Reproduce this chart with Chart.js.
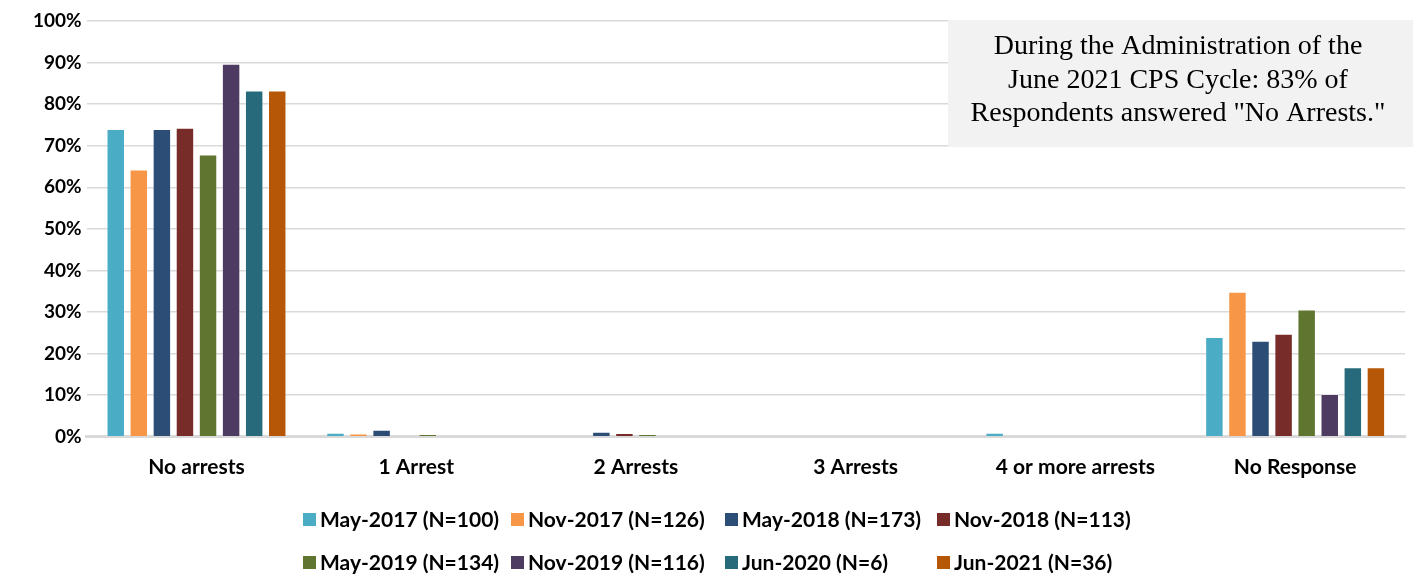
<!DOCTYPE html>
<html><head><meta charset="utf-8">
<script src="https://cdn.jsdelivr.net/npm/chart.js@4/dist/chart.umd.min.js"></script>
<style>html,body{margin:0;padding:0;background:#fff}#wrap{width:1413px;height:578px;position:relative}</style>
</head><body><div id="wrap"><canvas id="c"></canvas></div>
<script>
const categories = ["No arrests", "1 Arrest", "2 Arrests", "3 Arrests", "4 or more arrests", "No Response"];
const seriesLabels = ["May-2017 (N=100)", "Nov-2017 (N=126)", "May-2018 (N=173)", "Nov-2018 (N=113)",
                      "May-2019 (N=134)", "Nov-2019 (N=116)", "Jun-2020 (N=6)", "Jun-2021 (N=36)"];
const seriesColors = ["#4bacc6", "#f79646", "#2c4d75", "#772c2a", "#5f7530", "#4d3b62", "#276a7c", "#b65708"];
const may2017 = [74.0, 1.0, 0, 0, 1.0, 24.0];
const nov2017 = [64.3, 0.8, 0, 0, 0, 34.9];
const may2018 = [74.0, 1.7, 1.2, 0, 0, 23.1];
const nov2018 = [74.3, 0, 0.9, 0, 0, 24.8];
const may2019 = [67.9, 0.7, 0.7, 0, 0, 30.6];
const nov2019 = [89.7, 0, 0, 0, 0, 10.3];
const jun2020 = [83.3, 0, 0, 0, 0, 16.7];
const jun2021 = [83.3, 0, 0, 0, 0, 16.7];
const seriesValues = [may2017, nov2017, may2018, nov2018, may2019, nov2019, jun2020, jun2021];
const yTickMin = 0, yTickMax = 100, yTickStep = 10;
const noteLines = ["During the Administration of the", "June 2021 CPS Cycle: 83% of", "Respondents answered \"No Arrests.\""];

const FONT = "Lato, 'Liberation Sans', sans-serif";

const notePlugin = {
  id: 'note',
  afterDatasetsDraw(chart) {
    const ctx = chart.ctx;
    ctx.save();
    ctx.fillStyle = '#f2f2f2';
    ctx.fillRect(948, 20, 465, 127);
    ctx.fillStyle = '#000';
    ctx.font = "28px 'Liberation Serif', 'Times New Roman', serif";
    ctx.textAlign = 'center';
    ctx.textBaseline = 'middle';
    noteLines.forEach((t, i) => ctx.fillText(t, 1178, 47 + i * 33.5));
    ctx.restore();
  }
};

const gridLegendPlugin = {
  id: 'gridLegend',
  afterDraw(chart) {
    const ctx = chart.ctx;
    const cols = [303, 511, 725, 937];
    const rows = [520, 563];
    ctx.save();
    ctx.font = "bold 21px " + FONT;
    ctx.textBaseline = 'middle';
    ctx.textAlign = 'left';
    chart.data.datasets.forEach((ds, i) => {
      const x = cols[i % 4], y = rows[Math.floor(i / 4)];
      ctx.fillStyle = ds.backgroundColor;
      ctx.fillRect(x, y - 7, 13, 13);
      ctx.fillStyle = '#000';
      ctx.fillText(ds.label, x + 17, y);
    });
    ctx.restore();
  }
};

new Chart(document.getElementById('c'), {
  type: 'bar',
  data: {
    labels: categories,
    datasets: seriesValues.map((vals, i) => ({
      label: seriesLabels[i],
      data: vals,
      backgroundColor: seriesColors[i],
      borderColor: 'rgba(255,255,255,0.3)',
      borderWidth: 1,
      categoryPercentage: 0.84,
      barPercentage: 0.8
    }))
  },
  options: {
    responsive: true,
    maintainAspectRatio: false,
    animation: false,
    layout: { padding: { left: 28, right: 8, top: 21, bottom: 88 } },
    plugins: { legend: { display: false }, tooltip: { enabled: false } },
    scales: {
      x: {
        grid: { display: false },
        border: { color: '#d9d9d9', width: 3 },
        ticks: { color: '#000', font: { family: FONT, size: 21, weight: 'bold' }, padding: 10, maxRotation: 0 }
      },
      y: {
        min: yTickMin, max: yTickMax,
        grid: { color: '#d9d9d9', lineWidth: 1.5, drawTicks: false },
        border: { display: false },
        ticks: { stepSize: yTickStep, color: '#000', padding: 5,
                 font: { family: FONT, size: 19, weight: 'bold' },
                 callback: v => v + '%' }
      }
    }
  },
  plugins: [notePlugin, gridLegendPlugin]
});
</script></body></html>
